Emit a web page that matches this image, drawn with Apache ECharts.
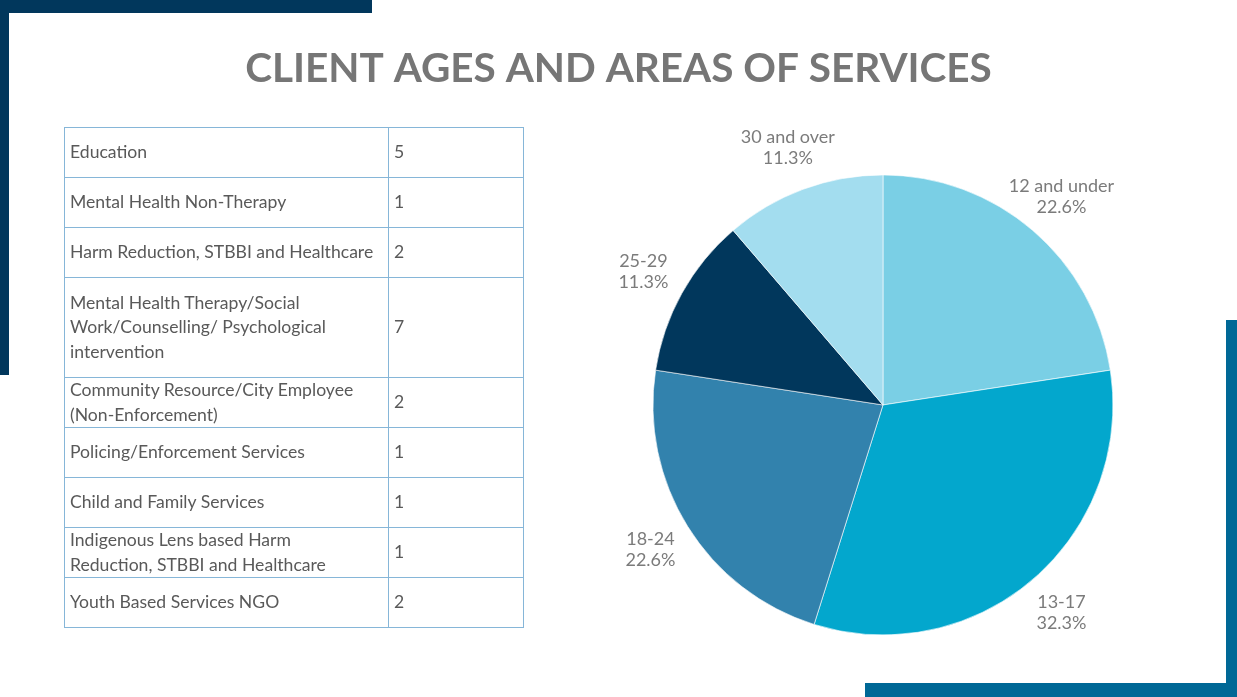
<!DOCTYPE html>
<html>
<head>
<meta charset="utf-8">
<script src="https://cdn.jsdelivr.net/npm/echarts@6/dist/echarts.min.js"></script>
<style>
  html, body { margin: 0; padding: 0; background: #ffffff; }
  #wrap { position: relative; width: 1237px; height: 697px; overflow: hidden; }
  #chart { position: absolute; left: 0; top: 0; width: 1237px; height: 697px; }
  #tbl { position: absolute; left: 64px; top: 127px; border-collapse: collapse; font-family: Lato, "Open Sans", sans-serif; font-size: 17.6px; color: #595959; }
  #tbl td { border: 1.5px solid #86B6D8; padding: 0 5px; vertical-align: middle; line-height: 24.5px; white-space: pre-line; }
  #tbl td.c1 { width: 313px; }
  #tbl td.c2 { width: 124px; }
</style>
</head>
<body>
<div id="wrap">
  <div id="chart"></div>
  <table id="tbl"></table>
</div>
<script>
// ---- Data ----
const titleText = 'CLIENT AGES AND AREAS OF SERVICES';
const serviceAreas = [
  'Education',
  'Mental Health Non-Therapy',
  'Harm Reduction, STBBI and Healthcare',
  'Mental Health Therapy/Social\nWork/Counselling/ Psychological\nintervention',
  'Community Resource/City Employee\n(Non-Enforcement)',
  'Policing/Enforcement Services',
  'Child and Family Services',
  'Indigenous Lens based Harm\nReduction, STBBI and Healthcare',
  'Youth Based Services NGO'
];
const serviceCounts = [5, 1, 2, 7, 2, 1, 1, 1, 2];
const rowLines = [1, 1, 1, 2, 1, 1, 1, 1, 1];

const ageGroups = ['12 and under', '13-17', '18-24', '25-29', '30 and over'];
const ageValues = [14, 20, 14, 7, 7];
const ageColors = ['#7ACFE5', '#03A7CD', '#3282AD', '#01375C', '#A3DDEF'];

// ---- Table ----
const tbl = document.getElementById('tbl');
serviceAreas.forEach(function (name, i) {
  const tr = document.createElement('tr');
  tr.style.height = (rowLines[i] * 50) + 'px';
  const a = document.createElement('td'); a.className = 'c1'; a.textContent = name;
  const b = document.createElement('td'); b.className = 'c2'; b.textContent = String(serviceCounts[i]);
  tr.appendChild(a); tr.appendChild(b); tbl.appendChild(tr);
});

// ---- Chart ----
const chart = echarts.init(document.getElementById('chart'), null, { renderer: 'canvas' });
const total = ageValues.reduce(function (s, v) { return s + v; }, 0);
const CX = 0.7138, CY = 0.581, R = 230, LD = 274;

chart.setOption({
  backgroundColor: '#ffffff',
  animation: false,
  title: {
    text: titleText,
    left: 'center',
    top: 43,
    textStyle: { fontFamily: 'Lato, "Open Sans", sans-serif', fontWeight: 'bold', fontSize: 40.5, color: '#767676' }
  },
  graphic: [
    { type: 'rect', shape: { x: 0, y: 0, width: 372, height: 13 }, style: { fill: '#01375C' } },
    { type: 'rect', shape: { x: 0, y: 0, width: 9, height: 375 }, style: { fill: '#01375C' } },
    { type: 'rect', shape: { x: 865, y: 683, width: 372, height: 14 }, style: { fill: '#006896' } },
    { type: 'rect', shape: { x: 1226, y: 320, width: 11, height: 377 }, style: { fill: '#006896' } }
  ],
  series: [{
    type: 'pie',
    center: [(CX * 100) + '%', (CY * 100) + '%'],
    radius: [0, R],
    startAngle: 90,
    clockwise: true,
    data: ageGroups.map(function (n, i) {
      return { name: n, value: ageValues[i], itemStyle: { color: ageColors[i] } };
    }),
    itemStyle: { borderColor: '#ffffff', borderWidth: 0.6 },
    label: {
      show: true,
      position: 'outside',
      formatter: function (p) { return p.name + '\n' + p.percent.toFixed(1) + '%'; },
      fontFamily: 'Lato, "Open Sans", sans-serif',
      fontSize: 18,
      lineHeight: 21,
      color: '#7B7B7B'
    },
    labelLine: { show: false },
    labelLayout: function (p) {
      const i = p.dataIndex;
      let cum = 0;
      for (let j = 0; j < i; j++) cum += ageValues[j];
      const ang = (cum + ageValues[i] / 2) / total * 2 * Math.PI;
      const cx = chart.getWidth() * CX, cy = chart.getHeight() * CY;
      return { x: cx + LD * Math.sin(ang), y: cy - LD * Math.cos(ang), align: 'center', verticalAlign: 'middle' };
    },
    emphasis: { disabled: true }
  }]
});
</script>
</body>
</html>
